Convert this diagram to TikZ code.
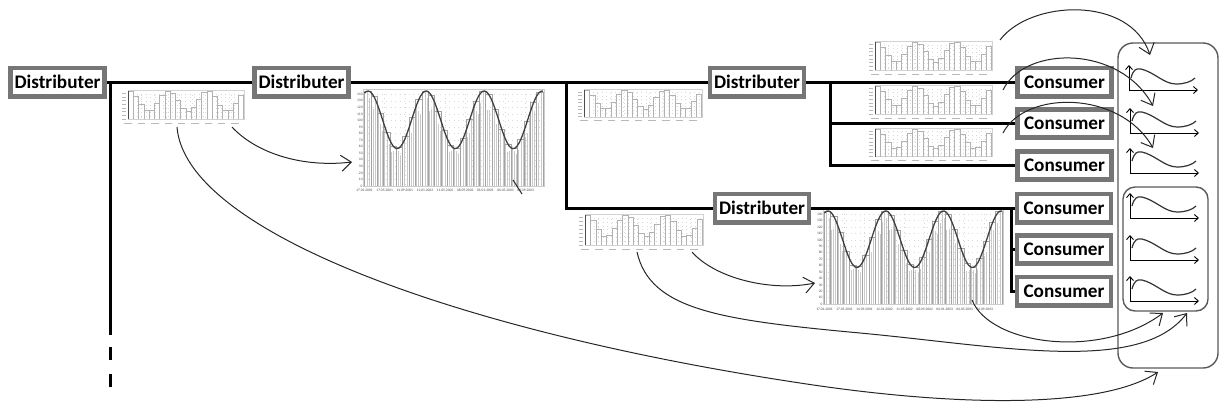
\documentclass[tikz,border=0pt]{standalone}
\usepackage{fontspec}
\setmainfont{Carlito}
\usetikzlibrary{arrows.meta}
\definecolor{boxgray}{RGB}{118,118,118}

\newcommand\thumbchart[5]{%
 \node[chartnode, minimum width=#4*0.5pt, minimum height=#5*0.5pt, anchor=north west] (#1) at (#2,#3) {};
 \begin{scope}[shift={(#2,#3)}, xscale=#4, yscale=#5]
  \draw[gray!35, line width=0.2pt] (0.065,0.03) rectangle (0.99,0.82);
  \foreach \k in {1,...,7} {\draw[gray!30, dotted, line width=0.2pt] (0.065,0.03+\k*0.0988) -- (0.99,0.03+\k*0.0988);}
  \foreach \k in {1,...,8} {\draw[gray!30, dotted, line width=0.2pt] (0.065+\k*0.1028,0.03) -- (0.065+\k*0.1028,0.82);}
  \foreach \i in {0,...,21} {%
    \pgfmathsetmacro\ua{0.065+\i*0.042}
    \pgfmathsetmacro\ub{\ua+0.042}
    \pgfmathsetmacro\cc{cos(48.13*(\i+0.3))}
    \pgfmathsetmacro\vt{0.82-0.77*(0.64+0.36*\cc)}
    \draw[gray!60, line width=0.3pt] (\ua,0.82) -- (\ua,\vt) -- (\ub,\vt) -- (\ub,0.82);
  }
  \draw[gray!60!black, line width=0.5pt] (0.065,0.82) -- (0.065,0.05);
  \foreach \k in {0,...,7} {\draw[gray!55, line width=0.45pt] (0.015,0.82-\k*0.1) -- (0.045,0.82-\k*0.1);}
  \foreach \k in {0,...,8} {\draw[gray!55, line width=0.45pt] (0.035+\k*0.107,0.93) -- (0.095+\k*0.107,0.93);}
 \end{scope}}

\newcommand\bigchart[5]{%
 \node[chartnode, minimum width=#4*0.5pt, minimum height=#5*0.5pt, anchor=north west] (#1) at (#2,#3) {};
 \begin{scope}[shift={(#2,#3)}, xscale=#4, yscale=#5]
  \draw[gray!40, line width=0.25pt] (0.045,0) rectangle (0.995,0.915);
  \foreach \k in {1,...,14} {\draw[gray!30, dotted, line width=0.25pt] (0.045,{0.915*(1-\k/14.8)}) -- (0.995,{0.915*(1-\k/14.8)});}
  \foreach \k in {1,...,8} {\draw[gray!30, dotted, line width=0.25pt] ({0.05+\k*0.106},0) -- ({0.05+\k*0.106},0.915);}
  \foreach \k in {0,...,80} {%
    \pgfmathsetmacro\uu{0.05+0.94*\k/80}
    \pgfmathsetmacro\vv{0.915*(1-(101+44*cos(360*(\k/80-0.02)/0.325))*(0.9+0.1*sin(\k*83))/148)}
    \draw[gray!42, line width=0.22pt] (\uu,0.915) -- (\uu,\vv);
  }
  \foreach \i in {0,...,27} {%
    \pgfmathsetmacro\ua{0.05+0.94*\i/28}
    \pgfmathsetmacro\ub{0.05+0.94*(\i+1)/28}
    \pgfmathsetmacro\vt{0.915*(1-(101+44*cos(360*((\i+0.5)/28-0.02)/0.325))/148)}
    \draw[gray!72, line width=0.35pt] (\ua,0.915) -- (\ua,\vt) -- (\ub,\vt) -- (\ub,0.915);
  }
  \draw[black!75, line width=0.65pt, domain=0:1, samples=90, variable=\xx] plot ({0.05+0.94*\xx},{0.915*(1-(101+44*cos(360*(\xx-0.02)/0.325))/148)});
  \foreach \lab in {0,10,...,140} {\node[tinylab, anchor=east] at (0.042,{0.915*(1-\lab/148)}) {\lab};}
  \foreach \d [count=\k from 0] in {17.01.2001,17.05.2001,14.09.2001,12.01.2002,11.05.2002,08.09.2002,06.01.2003,06.05.2003,03.09.2003} {\node[tinylab] at ({0.05+\k*0.106},0.96) {\d};}
 \end{scope}}

\newcommand\minigraph[2]{%
  \draw[axis] (#1,#2) -- (#1,#2-25);
  \draw[axis] (#1,#2) -- (#1+69,#2);
  \draw[black!80, line width=0.6pt] (#1+2,#2-12) .. controls (#1+4,#2-20) and (#1+7,#2-22) .. (#1+12,#2-21) .. controls (#1+25,#2-18) and (#1+35,#2-6) .. (#1+47,#2-6) .. controls (#1+55,#2-6) and (#1+62,#2-8) .. (#1+66,#2-12);}

\begin{document}
\begin{tikzpicture}[x=0.5pt,y=-0.5pt,
  box/.style={draw=boxgray, line width=2.3pt, fill=white, minimum width=47pt, minimum height=14.2pt, inner sep=0pt, font=\fontsize{9.6}{11}\selectfont\bfseries},
  bus/.style={line width=1.5pt, black},
  flow/.style={line width=0.5pt, black!85, -{Straight Barb[length=5pt,width=8pt]}},
  chartnode/.style={inner sep=0pt, outer sep=0pt, draw=none},
  grp/.style={draw=black!65, line width=0.7pt, inner sep=0pt},
  axis/.style={line width=0.45pt, -{Straight Barb[length=2pt,width=3.5pt]}},
  tinylab/.style={font=\fontsize{1.8}{2}\selectfont, text=gray!60!black, inner sep=0pt}]
\useasboundingbox (0,0) rectangle (1220,408);

% charts
\thumbchart{thA}{120}{89}{125}{37}
\bigchart{chB}{355}{89}{190}{106}
\thumbchart{thC}{576}{88}{127}{35}
\thumbchart{thT1}{867}{40}{126}{37}
\thumbchart{thT2}{867}{84}{126}{37}
\thumbchart{thT3}{867}{127}{126}{36}
\thumbchart{thD}{577}{213}{127}{39}
\bigchart{chE}{815}{209}{189}{104}

% boxes
\node[box] (D1) at (57.5,82) {Distributer};
\node[box] (D2) at (301.5,82) {Distributer};
\node[box] (D3) at (757,82) {Distributer};
\node[box] (D4) at (762,208) {Distributer};
\node[box] (C1) at (1064.5,82) {Consumer};
\node[box] (C2) at (1064.5,123.5) {Consumer};
\node[box] (C3) at (1064.5,165.5) {Consumer};
\node[box] (C4) at (1064,208) {Consumer};
\node[box] (C5) at (1064,249.5) {Consumer};
\node[box] (C6) at (1064,291) {Consumer};

% bus lines
\coordinate (J1) at (110,82);
\coordinate (J2) at (566,82);
\coordinate (J3) at (830,82);
\coordinate (J4) at (1011,208);
\coordinate (L1) at (110,335);
\coordinate (L2) at (110,347);
\coordinate (L3) at (110,387);
\draw[bus] (D1.east) -- (D2.west);
\draw[bus] (D2.east) -- (D3.west);
\draw[bus] (D3.east) -- (C1.west);
\draw[bus] (D4.east) -- (C4.west);
\draw[bus] (J1) -- (L1);
\draw[bus, dash pattern=on 6.5pt off 7pt] (L2) -- (L3);
\draw[bus] (J2) |- (D4.west);
\draw[bus] (J3) |- (C2.west);
\draw[bus] (J3) |- (C3.west);
\draw[bus] (J4) |- (C5.west);
\draw[bus] (J4) |- (C6.west);

% consumer profile groups
\node[grp, rounded corners=7.5pt, minimum width=50pt, minimum height=162.5pt] (G) at (1168,205.5) {};
\node[grp, rounded corners=6pt, minimum width=42.5pt, minimum height=62pt] (H) at (1165.5,249) {};
\minigraph{1129}{90}
\minigraph{1130}{133}
\minigraph{1130}{173}
\minigraph{1130}{218}
\minigraph{1130}{260}
\minigraph{1130}{301}

% flow arrows
\coordinate (a1s) at (232,127);  \coordinate (a1e) at (352,162);
\coordinate (a2s) at (177,127);  \coordinate (a2e) at (1158,372);
\coordinate (a3s) at (513,180);  \coordinate (a3e) at (522,194);
\coordinate (a4s) at (692,252);  \coordinate (a4e) at (815,283);
\coordinate (a5s) at (637,252);  \coordinate (a5e) at (1187,313);
\coordinate (a6s) at (972,300);  \coordinate (a6e) at (1163,313);
\coordinate (a7s) at (1000,40);  \coordinate (a7e) at (1150,55);
\coordinate (a8s) at (1003,90);  \coordinate (a8e) at (1153,106);
\coordinate (a9s) at (1003,133); \coordinate (a9e) at (1153,148);
\draw[flow] (a1s) .. controls (255,152) and (300,168) .. (a1e);
\draw[flow] (a2s) .. controls (185,230) and (450,330) .. (800,383) .. controls (950,406) and (1100,410) .. (a2e);
\draw[line width=0.5pt, black!85] (a3s) -- (a3e);
\draw[flow] (a4s) .. controls (715,278) and (770,292) .. (a4e);
\draw[flow] (a5s) .. controls (650,310) and (720,320) .. (860,333) .. controls (1000,346) and (1140,375) .. (a5e);
\draw[flow] (a6s) .. controls (990,345) and (1100,360) .. (a6e);
\draw[flow] (a7s) .. controls (1030,0) and (1130,-5) .. (a7e);
\draw[flow] (a8s) .. controls (1025,45) and (1120,45) .. (a8e);
\draw[flow] (a9s) .. controls (1025,90) and (1120,90) .. (a9e);
\end{tikzpicture}
\end{document}
